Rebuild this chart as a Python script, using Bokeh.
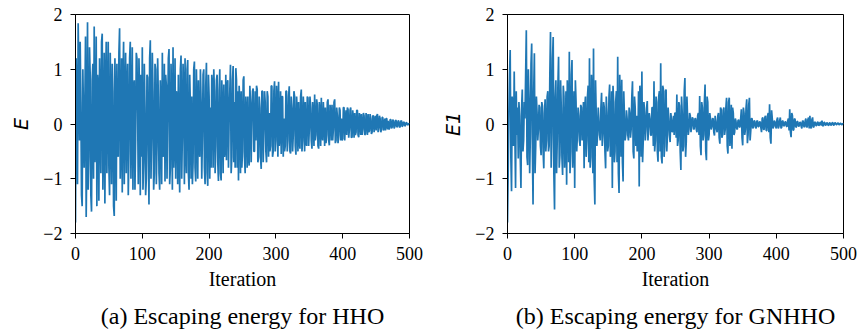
from bokeh.plotting import figure
from bokeh.layouts import row
from bokeh.models import FixedTicker, Title, Range1d
from bokeh.embed import file_html
from bokeh.resources import INLINE

# Values: even iterations 0,2,...,500 and odd iterations 1,3,...,499
hho_E_even = [
    -1.8, 0.45, 1.84, -0.3, 0.4, -1.5, 0.2, 0.35, -1.7, 1.86,
    -0.6, 0.9, -1.6, 1.1, 1.78, -0.4, -1.5, 0.7, 1.2, -0.9,
    1.65, -0.2, -1.45, 1.5, 0.3, -0.8, 1.3, -1.1, 0.6, -1.68,
    0.2, 1.1, -0.6, 1.75, -0.3, -1.25, 1.5, 0.4, -0.9, 1.1,
    -0.5, 1.5, 0.1, -1.2, 0.8, -0.3, 1.2, -1.1, 0.5, 0.9,
    1.4, -0.7, 0.3, -1.0, 0.85, -1.47, 1.53, -0.2, 0.6, -0.9,
    1.0, -0.4, 0.5, -1.2, 0.2, 1.3, -0.5, -1.05, 0.7, 0.1,
    1.37, -0.8, 0.4, 1.4, -0.3, -1.0, 0.5, 0.9, -1.25, 1.25,
    -0.2, 0.6, 1.2, -0.9, 1.17, -1.2, 0.3, 0.5, -0.7, 1.14,
    -1.05, 0.2, 0.8, -0.6, 0.4, -0.2, 1.0, -1.1, 1.12, -1.13,
    0.5, 0.3, 0.9, -0.8, 0.6, -0.4, 0.9, -1.04, 1.0, -1.03,
    0.2, 0.72, -0.5, -0.66, 0.8, 0.1, 1.08, -0.6, 1.06, 0.4,
    1.02, -0.8, -1.03, 0.3, 0.6, -0.5, 0.87, -0.9, 0.2, 0.5,
    -0.76, 0.4, 0.1, 0.65, -0.5, -0.3, 0.63, -0.6, 0.3, -0.82,
    0.6, -0.1, 0.4, -0.7, 0.5, 0.2, -0.4, 0.69, -0.5, 0.78,
    -0.3, 0.4, 0.77, -0.2, -0.55, 0.5, 0.1, -0.4, 0.6, -0.3,
    0.69, -0.54, 0.3, -0.2, 0.5, -0.56, 0.2, 0.4, -0.45, 0.63,
    -0.3, 0.2, 0.4, -0.4, 0.48, -0.1, 0.3, -0.45, 0.15, 0.54,
    -0.2, 0.35, -0.45, 0.2, 0.48, -0.3, 0.1, 0.3, -0.2, 0.45,
    -0.39, 0.2, 0.35, -0.1, 0.45, -0.3, 0.15, -0.2, 0.25, 0.1,
    -0.27, 0.3, 0.05, -0.2, 0.27, -0.1, 0.3, -0.24, 0.1, 0.2,
    -0.15, 0.25, -0.24, 0.1, 0.18, -0.1, 0.15, -0.18, 0.05, 0.18,
    -0.12, 0.1, -0.15, 0.15, 0.05, -0.12, 0.18, -0.08, 0.1, -0.1,
    0.12, -0.05, -0.12, 0.1, 0.06, -0.08, 0.08, -0.06, 0.05, -0.05,
    0.06, -0.04, 0.05, -0.05, 0.06, -0.03, 0.03, -0.02, 0.02, -0.01,
    0.0,
]

hho_E_odd = [
    1.2, -1.1, 0.9, 1.5, -1.3, 1.0, -0.8, 1.6, -0.5, -1.2,
    1.4, -1.3, 0.8, -1.0, -0.7, 1.6, 0.9, -1.4, 0.3, 1.5,
    -1.2, 1.3, 0.6, -0.9, 1.5, -1.3, 0.2, 1.1, -1.5, 1.2,
    -1.4, -0.4, 1.3, -1.0, 1.2, 0.8, -1.1, 1.3, 0.6, -1.3,
    1.2, -1.0, 1.4, 0.6, -1.2, 1.3, 0.2, 1.2, -1.3, -0.6,
    -1.2, 1.1, -1.3, 0.9, -0.5, 1.2, -1.0, 1.3, -1.2, 1.1,
    -1.1, 1.2, -0.9, 0.8, -1.1, -0.6, 1.1, 0.9, -1.0, 1.2,
    -1.1, 1.1, -1.2, -0.8, 1.2, 0.6, -1.1, -0.5, 1.0, -1.0,
    1.1, -1.1, -0.4, 1.0, -0.9, 0.9, -1.0, -1.1, 1.0, -0.8,
    1.0, -1.0, -0.4, 1.0, -1.0, 0.9, -0.8, 0.7, -0.9, 0.9,
    -1.0, -0.8, 0.7, 1.0, -0.9, 0.8, -0.7, 0.6, -0.9, 0.8,
    -0.9, -0.6, 0.9, 0.7, -0.8, 0.6, -0.9, 0.8, -0.7, -0.8,
    0.8, 0.6, 0.7, -0.9, -0.8, 0.8, -0.6, 0.5, -0.8, -0.6,
    0.7, -0.7, 0.6, -0.5, 0.6, 0.7, -0.7, 0.5, -0.6, 0.6,
    -0.7, 0.6, -0.5, 0.6, -0.6, -0.5, 0.7, -0.6, 0.6, -0.5,
    0.7, -0.6, -0.4, 0.6, 0.5, -0.6, -0.5, 0.6, -0.5, 0.5,
    -0.5, 0.5, -0.5, 0.6, -0.4, 0.5, -0.5, -0.3, 0.5, -0.5,
    0.5, -0.5, -0.3, 0.5, -0.4, 0.5, -0.3, 0.4, -0.4, -0.3,
    0.45, -0.4, 0.4, -0.4, -0.2, 0.4, -0.4, -0.35, 0.4, -0.3,
    0.35, -0.3, -0.3, 0.4, -0.35, 0.3, -0.35, 0.3, -0.3, -0.3,
    0.3, -0.3, 0.25, 0.3, -0.25, 0.25, -0.25, 0.25, -0.25, -0.2,
    0.25, -0.2, 0.2, -0.2, -0.2, 0.2, -0.2, 0.2, -0.2, -0.15,
    0.18, -0.18, 0.15, -0.15, 0.15, 0.15, -0.15, 0.15, -0.15, 0.12,
    -0.12, 0.1, 0.1, -0.1, -0.1, 0.08, -0.08, 0.08, -0.08, 0.07,
    -0.06, 0.06, -0.06, 0.05, -0.05, 0.04, -0.04, 0.03, -0.02, 0.01,
]

gnhho_E1_even = [
    -1.8, 0.2, 1.35, -1.23, 0.1, 0.96, -1.17, -0.2, -0.63, 0.15,
    -1.17, 0.63, -0.3, 0.1, 1.71, -0.75, 0.45, -0.2, 1.47, -1.47,
    1.29, -0.4, 0.2, -0.1, 0.3, -0.57, 0.33, -0.81, 0.45, -0.3,
    0.6, -0.4, 1.68, -0.2, 1.59, -1.56, 0.8, -0.3, 1.23, -0.57,
    0.3, -0.93, 0.5, -0.4, -1.11, 0.4, 1.32, -0.5, 1.17, -0.3,
    -1.17, 0.4, -0.2, 0.15, -0.4, 0.3, -0.1, -0.81, 0.5, -0.3,
    0.7, 1.2, -0.6, 0.5, 1.38, -1.47, 0.2, -0.2, 0.05, -0.3,
    0.57, -0.2, 0.3, -0.81, 0.2, -0.4, 0.72, -0.3, -1.17, 0.4,
    -0.5, 0.6, 1.23, -1.26, 0.3, 0.81, -1.05, 0.15, -0.2, 0.1,
    -0.3, 0.2, -0.1, 0.78, -0.63, 0.3, 0.15, -0.4, -1.14, 0.5,
    0.96, -0.3, 0.2, -0.1, 0.42, -0.05, 0.1, -0.21, 0.3, 0.78,
    -0.3, 0.4, -0.69, 0.6, 1.11, -0.72, 0.63, -0.4, 0.63, -0.2,
    0.1, -0.33, 0.09, -0.1, -0.2, 0.2, 0.54, -0.3, 0.33, -0.84,
    0.2, -0.4, 0.84, -0.33, 0.1, -0.1, 0.15, -0.05, 0.1, -0.08,
    0.1, -0.15, 0.2, 0.51, -0.57, 0.3, -0.2, 0.72, -0.66, 0.4,
    -0.2, 0.1, -0.05, 0.1, -0.21, 0.05, -0.15, 0.2, -0.36, 0.27,
    -0.2, 0.3, -0.1, 0.48, -0.54, 0.48, -0.2, -0.45, 0.2, -0.15,
    0.05, -0.1, 0.08, -0.05, 0.27, -0.39, 0.2, -0.1, 0.45, -0.2,
    0.48, -0.12, 0.1, -0.05, 0.05, -0.08, 0.06, -0.05, 0.04, -0.15,
    0.12, -0.1, 0.15, -0.12, 0.2, 0.36, -0.36, 0.1, -0.05, 0.04,
    -0.08, 0.12, -0.04, 0.12, -0.06, 0.05, -0.03, 0.04, -0.05, 0.1,
    0.27, -0.24, 0.15, -0.1, 0.08, -0.05, 0.04, -0.04, 0.03, -0.08,
    0.05, -0.06, 0.1, -0.05, 0.12, 0.15, -0.08, 0.12, -0.05, 0.03,
    -0.03, 0.04, -0.02, 0.03, 0.06, -0.04, 0.03, -0.02, 0.02, -0.03,
    0.02, -0.02, 0.03, -0.02, 0.02, -0.01, 0.02, -0.01, 0.01, -0.01,
    0.0,
]

gnhho_E1_odd = [
    -0.9, 0.9, -0.6, 0.5, -0.4, -0.2, 0.6, 0.3, 0.4, -0.6,
    0.3, -0.5, 0.4, 0.9, -0.6, 1.0, -0.9, 1.1, -0.4, 0.6,
    -0.9, 0.5, -0.3, 0.35, -0.4, 0.4, -0.5, 0.2, -0.5, 0.5,
    -0.5, 0.9, -0.8, 1.2, -0.9, 0.5, -0.9, 0.7, -0.8, 0.8,
    -0.6, 0.7, -0.8, 0.6, 0.8, -0.7, -0.9, 0.9, -0.8, 0.6,
    0.8, -0.5, 0.3, -0.3, 0.35, -0.3, 0.4, 0.3, -0.6, 0.5,
    -0.7, -0.8, 0.9, -0.9, -1.0, 0.8, -0.4, 0.3, -0.2, 0.3,
    -0.4, 0.4, -0.5, 0.5, -0.5, 0.5, -0.6, 0.6, 0.7, -0.7,
    0.4, -0.7, -0.9, 0.9, -0.6, -0.7, 0.6, -0.3, 0.25, -0.2,
    0.3, -0.25, 0.5, -0.5, 0.5, -0.4, -0.5, 0.6, 0.7, -0.6,
    -0.7, 0.4, -0.3, 0.3, -0.3, 0.2, -0.2, 0.3, -0.4, -0.5,
    0.5, -0.5, 0.5, -0.5, -0.6, 0.7, -0.6, 0.6, -0.5, 0.3,
    -0.2, 0.2, -0.15, 0.15, 0.2, -0.25, -0.4, 0.4, -0.5, 0.5,
    -0.5, 0.6, -0.6, 0.5, -0.2, 0.2, -0.15, 0.12, -0.1, 0.1,
    -0.1, 0.15, -0.2, -0.4, 0.4, -0.3, 0.4, -0.5, 0.5, -0.3,
    0.2, -0.1, 0.1, -0.15, 0.15, -0.1, 0.15, -0.25, 0.3, -0.25,
    0.25, -0.2, 0.3, -0.4, 0.4, -0.4, 0.35, 0.3, -0.2, 0.1,
    -0.08, 0.06, -0.06, 0.1, -0.25, 0.3, -0.2, 0.3, -0.35, 0.35,
    -0.3, 0.1, -0.08, 0.06, -0.06, 0.05, -0.05, 0.04, -0.06, 0.1,
    -0.1, 0.12, -0.12, 0.15, -0.15, -0.25, 0.25, -0.08, 0.06, -0.05,
    0.08, -0.08, 0.06, -0.08, 0.06, -0.04, 0.04, -0.04, 0.06, -0.12,
    -0.15, 0.2, -0.12, 0.1, -0.06, 0.05, -0.04, 0.03, -0.04, 0.06,
    -0.04, 0.06, -0.06, 0.08, -0.08, -0.06, 0.08, -0.06, 0.04, -0.03,
    0.03, -0.03, 0.03, -0.03, -0.03, 0.03, -0.02, 0.02, -0.02, 0.02,
    -0.02, 0.02, -0.02, 0.02, -0.01, 0.01, -0.01, 0.01, -0.01, 0.01,
]

x_ticks = [0, 100, 200, 300, 400, 500]
y_ticks = [-2, -1, 0, 1, 2]
y_tick_labels = {-2: "\u22122", -1: "\u22121", 0: "0", 1: "1", 2: "2"}
x_label = "Iteration"
y_labels = ["E", "E1"]
captions = ["(a) Escaping energy for HHO", "(b) Escaping energy for GNHHO"]


def merge(even, odd):
    out = []
    for i, v in enumerate(even):
        out.append(v)
        if i < len(odd):
            out.append(odd[i])
    return out


hho_E = merge(hho_E_even, hho_E_odd)
gnhho_E1 = merge(gnhho_E1_even, gnhho_E1_odd)
iterations = list(range(len(hho_E)))

SERIF = "Liberation Serif"
LINE_COLOR = "#1f77b4"


def panel(values, ylab, caption, width, ml, mr, cap_offset):
    p = figure(width=width, height=336,
               x_range=Range1d(0, 500), y_range=Range1d(-2, 2),
               output_backend="svg", toolbar_location=None,
               min_border_left=ml, min_border_right=mr,
               min_border_top=14, min_border_bottom=100,
               background_fill_color="white", border_fill_color="white")
    p.line(iterations, values, line_color=LINE_COLOR, line_width=1.7)
    p.grid.visible = False
    p.outline_line_color = "black"
    p.outline_line_width = 1
    p.outline_line_alpha = 1.0
    for ax in (p.xaxis[0], p.yaxis[0]):
        ax.axis_line_color = "black"
        ax.major_tick_line_color = "black"
        ax.minor_tick_line_color = None
        ax.major_tick_out = 5
        ax.major_tick_in = 0
        ax.major_label_text_font = SERIF
        ax.major_label_text_font_size = "18px"
        ax.major_label_text_color = "black"
        ax.axis_label_text_color = "black"
    p.xaxis[0].major_label_standoff = 8
    p.yaxis[0].major_label_standoff = 8
    p.xaxis[0].ticker = FixedTicker(ticks=x_ticks)
    p.yaxis[0].ticker = FixedTicker(ticks=y_ticks)
    p.yaxis[0].major_label_overrides = y_tick_labels
    p.xaxis[0].axis_label = x_label
    p.xaxis[0].axis_label_text_font = SERIF
    p.xaxis[0].axis_label_text_font_style = "normal"
    p.xaxis[0].axis_label_text_font_size = "20px"
    p.xaxis[0].axis_label_standoff = 5
    p.yaxis[0].axis_label = ylab
    p.yaxis[0].axis_label_text_font = "DejaVu Sans"
    p.yaxis[0].axis_label_text_font_style = "italic"
    p.yaxis[0].axis_label_text_font_size = "19px"
    p.yaxis[0].axis_label_standoff = 8
    t = Title(text=caption, align="center", offset=cap_offset,
              text_font=SERIF, text_font_size="24px",
              text_font_style="normal", text_color="black", standoff=16)
    p.add_layout(t, "below")
    return p


pa = panel(hho_E, y_labels[0], captions[0], 428, 75, 19, -8)
pb = panel(gnhho_E1, y_labels[1], captions[1], 430, 79, 15, 2)
layout = row(pa, pb)

open("out.html", "w").write(file_html(layout, INLINE))
